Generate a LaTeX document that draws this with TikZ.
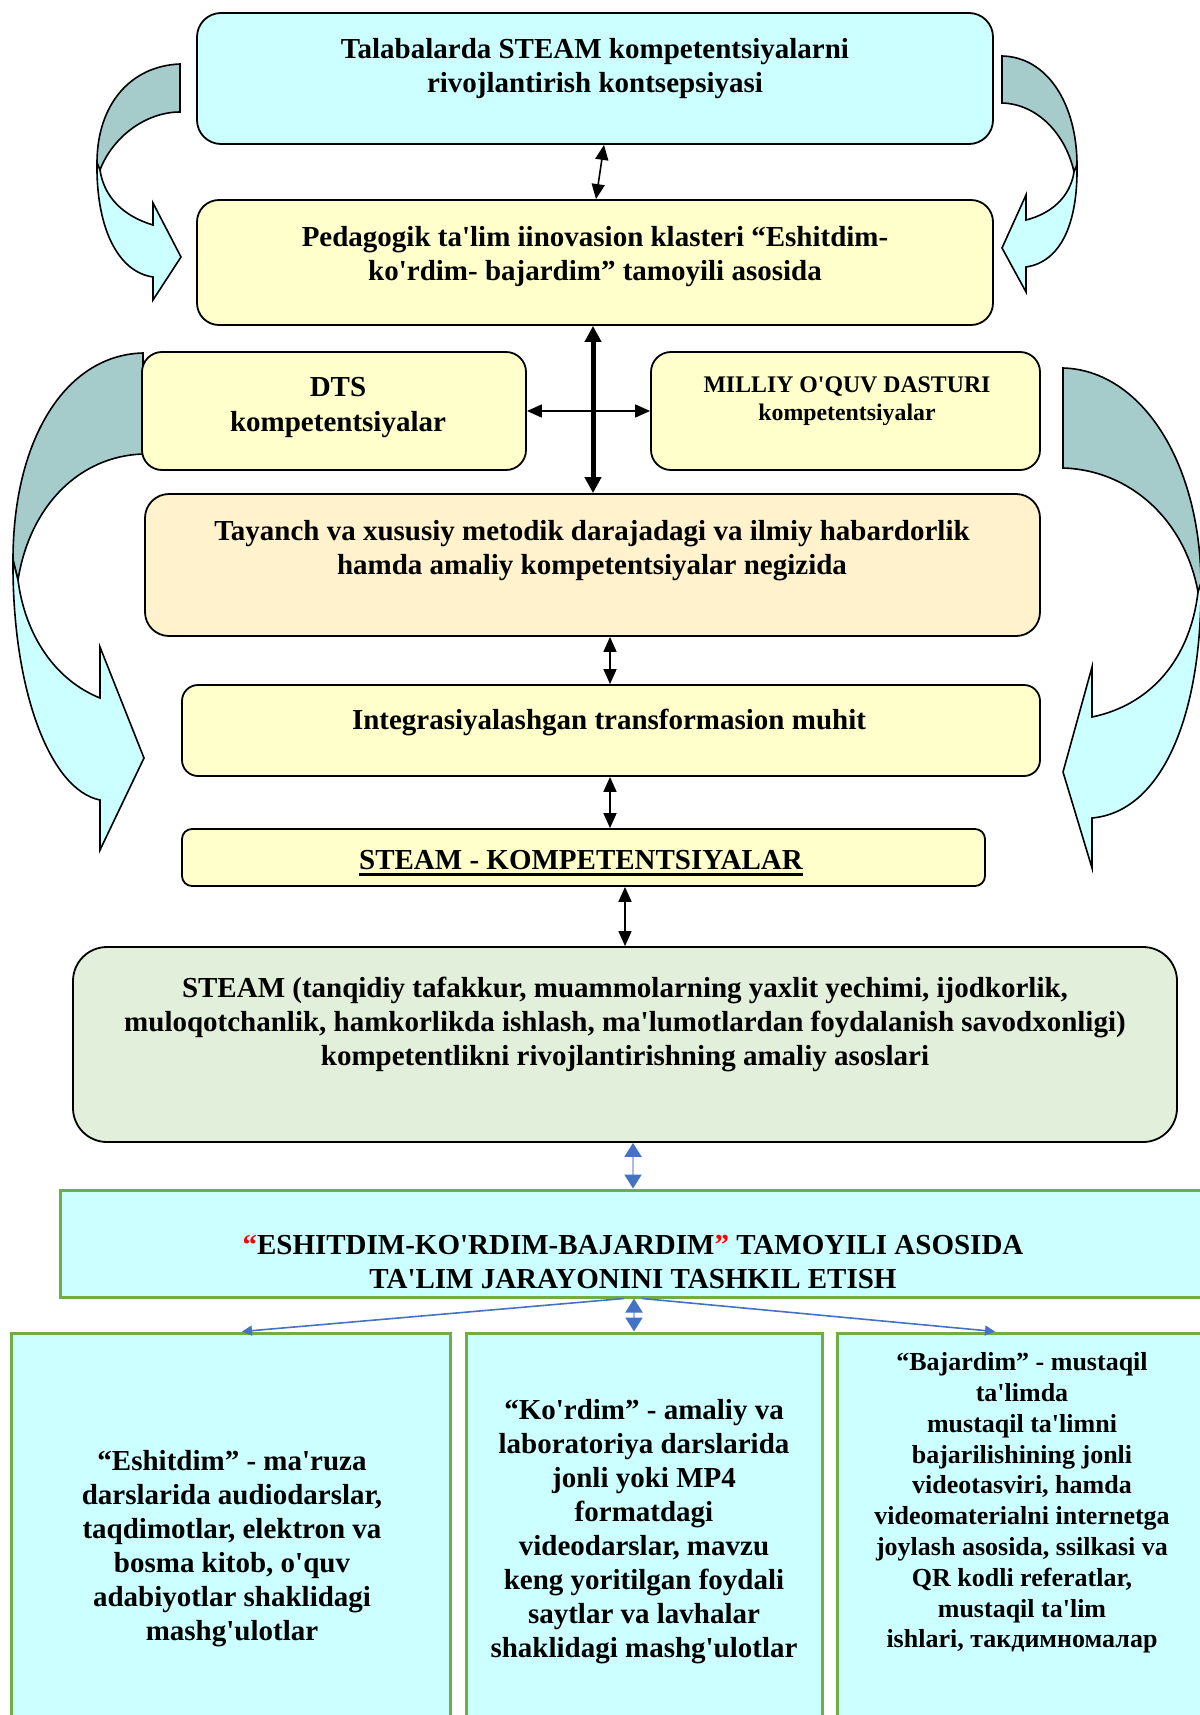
\documentclass[tikz,border=0pt]{standalone}
\usepackage{fontspec}
\setmainfont{Liberation Serif}[Ligatures=TeXOff]
\usetikzlibrary{arrows.meta}

\definecolor{cyanbox}{HTML}{CCFFFF}
\definecolor{yellowbox}{HTML}{FFFFCC}
\definecolor{orangebox}{HTML}{FFF2CC}
\definecolor{greenbox}{HTML}{E2EFDA}
\definecolor{greenline}{HTML}{70AD47}
\definecolor{tealback}{HTML}{A5CBCB}
\definecolor{arblue}{HTML}{4472C4}
\definecolor{paleblue}{HTML}{A8BDE6}

\newcommand{\ulword}[1]{\setbox0\hbox{#1}\rlap{\raisebox{-6pt}{\rule{\wd0}{2.4pt}}}\box0}

\begin{document}
\begin{tikzpicture}[x=1pt,y=-1pt,
  box/.style={shape=rectangle,draw,line width=1.8pt,rounded corners=#1,inner sep=0pt},
  box/.default=20pt,
  gbox/.style={shape=rectangle,draw=greenline,line width=3pt,fill=cyanbox,inner sep=0pt},
  txt/.style={align=center,inner sep=0pt,font=\bfseries\fontsize{29}{34}\selectfont},
  curv/.style={draw,line width=1.6pt,line join=miter},
  dbl/.style={{Triangle[length=15pt,width=13pt]}-{Triangle[length=15pt,width=13pt]},line width=1.6pt},
  dblthick/.style={{Triangle[length=16pt,width=16pt]}-{Triangle[length=16pt,width=16pt]},line width=5pt},
  bluedbl/.style={{Triangle[length=14pt,width=17pt,color=arblue]}-{Triangle[length=14pt,width=17pt,color=arblue]},paleblue,line width=2pt},
  blueone/.style={-{Triangle[length=10pt,width=10pt]},arblue,line width=1.6pt}]
\useasboundingbox (0,0) rectangle (1199,1715);

% curved arrows at the sides
\path[curv,fill=tealback] (180,64) .. controls (130,66) and (97,105) .. (97,163) -- (100,170) .. controls (112,138) and (145,112) .. (180,112) -- cycle;
\path[curv,fill=cyanbox] (97,163) .. controls (96,228) and (118,272) .. (153,277) -- (153,300) -- (181,257) -- (153,203) -- (153,225) .. controls (123,216) and (104,197) .. (100,170) -- cycle;

\path[curv,fill=tealback] (1002,56) .. controls (1048,57) and (1077,105) .. (1077,165) -- (1074,172) .. controls (1066,135) and (1038,104) .. (1002,103) -- cycle;
\path[curv,fill=cyanbox] (1077,165) .. controls (1078,225) and (1060,262) .. (1026,267) -- (1026,292) -- (1002,248) -- (1026,195) -- (1026,220) .. controls (1050,214) and (1070,198) .. (1074,172) -- cycle;

\path[curv,fill=tealback] (143,353) .. controls (65,355) and (13,440) .. (13,560) -- (18,580) .. controls (30,505) and (80,456) .. (143,454) -- cycle;
\path[curv,fill=cyanbox] (13,560) .. controls (12,690) and (50,790) .. (100,800) -- (100,850) -- (144,758) -- (100,647) -- (100,698) .. controls (55,680) and (25,635) .. (18,580) -- cycle;

\path[curv,fill=tealback] (1063,368) .. controls (1140,370) and (1200,460) .. (1201,583) -- (1198,592) .. controls (1185,520) and (1130,470) .. (1063,468) -- cycle;
\path[curv,fill=cyanbox] (1201,583) .. controls (1202,720) and (1160,812) .. (1092,818) -- (1092,868) -- (1063,772) -- (1092,667) -- (1092,717) .. controls (1150,705) and (1190,660) .. (1198,592) -- cycle;

% boxes
\path (595,78.5) node (konts) [box=24pt,fill=cyanbox,minimum width=796pt,minimum height=131pt] {};
\path (595,262.5) node (ped) [box=22pt,fill=yellowbox,minimum width=796pt,minimum height=125pt] {};
\path (334,411) node (dts) [box=20pt,fill=yellowbox,minimum width=384pt,minimum height=118pt] {};
\path (845.5,411) node (milliy) [box=20pt,fill=yellowbox,minimum width=389pt,minimum height=118pt] {};
\path (592.5,565) node (tayanch) [box=24pt,fill=orangebox,minimum width=895pt,minimum height=142pt] {};
\path (611,730.5) node (integ) [box=16pt,fill=yellowbox,minimum width=858pt,minimum height=91pt] {};
\path (583.5,857.5) node (steamk) [box=10pt,fill=yellowbox,minimum width=803pt,minimum height=57pt] {};
\path (625,1044.5) node (steam) [box=34pt,fill=greenbox,minimum width=1104pt,minimum height=195pt] {};
\path (633,1243.5) node (tashkil) [gbox,minimum width=1146pt,minimum height=107pt] {};
\path (231,1531.5) node (eshit) [gbox,minimum width=439pt,minimum height=397pt] {};
\path (644,1531.5) node (kordim) [gbox,minimum width=356pt,minimum height=397pt] {};
\path (1022,1531.5) node (bajar) [gbox,minimum width=370pt,minimum height=397pt] {};

% texts
\path (595,69) node (kontsT) [txt] {Talabalarda STEAM kompetentsiyalarni\\rivojlantirish kontsepsiyasi};
\path (595,257) node (pedT) [txt] {Pedagogik ta'lim iinovasion klasteri “Eshitdim-\\ko'rdim- bajardim” tamoyili asosida};
\path (338,408) node (dtsT) [txt,font=\bfseries\fontsize{29}{35}\selectfont] {DTS\\kompetentsiyalar};
\path (847,401) node (milliyT) [txt,font=\bfseries\fontsize{23.8}{28}\selectfont] {MILLIY O'QUV DASTURI\\kompetentsiyalar};
\path (592,551) node (tayanchT) [txt] {Tayanch va xususiy metodik darajadagi va ilmiy habardorlik\\hamda amaliy kompetentsiyalar negizida};
\path (609,722) node (integT) [txt] {Integrasiyalashgan transformasion muhit};
\path (581,863) node (steamkT) [txt] {\ulword{STEAM - KOMPETENTSIYALAR}};
\path (625,1024) node (steamT) [txt] {STEAM (tanqidiy tafakkur, muammolarning yaxlit yechimi, ijodkorlik,\\muloqotchanlik, hamkorlikda ishlash, ma'lumotlardan foydalanish savodxonligi)\\kompetentlikni rivojlantirishning amaliy asoslari};
\path (633,1262) node (tashkilT) [txt] {\textcolor{red}{“}ESHITDIM-KO'RDIM-BAJARDIM\textcolor{red}{”} TAMOYILI ASOSIDA\\TA'LIM JARAYONINI TASHKIL ETISH};
\path (232,1549) node (eshitT) [txt] {“Eshitdim” - ma'ruza\\darslarida audiodarslar,\\taqdimotlar, elektron va\\bosma kitob, o'quv\\adabiyotlar shaklidagi\\mashg'ulotlar};
\path (644,1532) node (kordimT) [txt] {“Ko'rdim” - amaliy va\\laboratoriya darslarida\\jonli yoki MP4\\formatdagi\\videodarslar, mavzu\\keng yoritilgan foydali\\saytlar va lavhalar\\shaklidagi mashg'ulotlar};
\path (1022,1503) node (bajarT) [txt,font=\bfseries\fontsize{26}{30.8}\selectfont] {“Bajardim” - mustaqil\\ta'limda\\mustaqil ta'limni\\bajarilishining jonli\\videotasviri, hamda\\videomaterialni internetga\\joylash asosida, ssilkasi va\\QR kodli referatlar,\\mustaqil ta'lim\\ishlari, такдимномалар};

% connectors
\draw [dbl] ([xshift=9pt]konts.south) to ([xshift=1pt]ped.north);
\draw [dblthick] ([xshift=-2pt]ped.south) to ([xshift=0.5pt]tayanch.north);
\draw [dbl] (dts.east) to (milliy.west);
\draw [dbl] ([xshift=17.5pt]tayanch.south) to ([xshift=-1pt]integ.north);
\draw [dbl] ([xshift=-1pt]integ.south) to ([xshift=26.5pt]steamk.north);
\draw [dbl] ([xshift=41.5pt]steamk.south) to (steam.north);
\draw [bluedbl] ([xshift=8pt]steam.south) to (tashkil.north);
\draw [bluedbl] ([xshift=1pt]tashkil.south) to ([xshift=-10pt]kordim.north);
\draw [blueone] ([xshift=-9pt]tashkil.south) to ([xshift=11pt]eshit.north);
\draw [blueone] ([xshift=9pt]tashkil.south) to ([xshift=-27pt]bajar.north);

\end{tikzpicture}
\end{document}
